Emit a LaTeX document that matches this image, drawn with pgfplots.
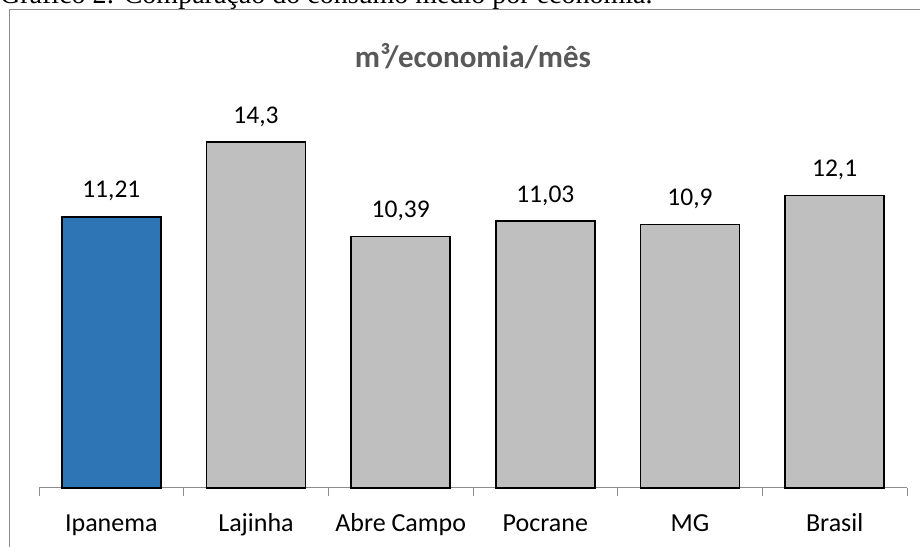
\documentclass[border=0pt]{standalone}
\usepackage{pgfplots}
\pgfplotsset{compat=1.18}
\usepackage{fontspec}
\setmainfont{Carlito}
\newfontfamily\capfont{Liberation Serif}
\definecolor{barblue}{HTML}{2E75B6}
\definecolor{bargray}{HTML}{BFBFBF}
\definecolor{titlegray}{HTML}{595959}
\definecolor{framegray}{HTML}{8C8C8C}
\definecolor{axisgray}{HTML}{8C8C8C}
\begin{document}
\begin{tikzpicture}[x=1bp,y=1bp]
\useasboundingbox (0,0) rectangle (920,547);
\node[anchor=base west, inner sep=0, font=\capfont\fontsize{28bp}{30bp}\selectfont] at (0,543) {Gráfico 2: Comparação do consumo médio por economia.};
\draw[framegray, line width=1.2bp] (935,537.5) -- (9.5,537.5) -- (9.5,-10);
\node[anchor=base, inner sep=0, text=titlegray, font=\bfseries\fontsize{31bp}{33bp}\selectfont] at (473,479) {m³/economia/mês};
\begin{axis}[
  at={(39bp,59bp)}, anchor=south west,
  scale only axis, width=868bp, height=387bp,
  xmin=-0.5, xmax=5.5, ymin=0, ymax=16,
  axis x line=bottom, axis y line=none,
  x axis line style={-, draw=axisgray, line width=1bp},
  xtick={0,1,2,3,4,5},
  xticklabels={Ipanema,Lajinha,Abre Campo,Pocrane,MG,Brasil},
  major tick length=0pt,
  minor xtick={-0.5,0.5,1.5,2.5,3.5,4.5,5.5},
  minor tick length=8bp,
  tick align=outside,
  every tick/.style={draw=axisgray, line width=1bp},
  xticklabel style={font=\fontsize{26bp}{28bp}\selectfont, anchor=base, yshift=-44bp, inner sep=0},
  ybar, bar width=0.685, bar shift=0pt,
  nodes near coords,
  every node near coord/.append style={font=\fontsize{25.5bp}{27bp}\selectfont, anchor=base, inner sep=0, yshift=19bp, text=black},
  /pgf/number format/.cd, use comma, assume math mode=true, precision=2,
  /pgfplots/.cd,
  clip=false,
]
\addplot[fill=barblue, draw=black, line width=1.5bp] coordinates {(0,11.21)};
\addplot[fill=bargray, draw=black, line width=1.5bp] coordinates {(1,14.3) (2,10.39) (3,11.03) (4,10.9) (5,12.1)};
\end{axis}
\end{tikzpicture}
\end{document}
